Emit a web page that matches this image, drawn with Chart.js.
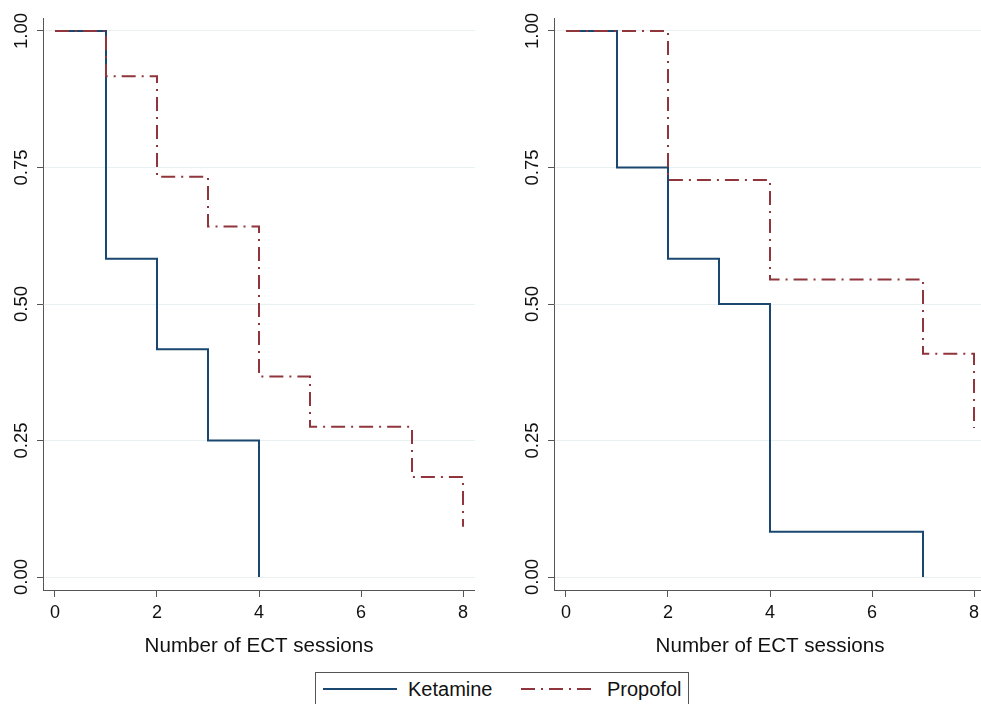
<!DOCTYPE html>
<html>
<head>
<meta charset="utf-8">
<script src="https://cdn.jsdelivr.net/npm/chart.js@4"></script>
<style>
	html, body { margin: 0; padding: 0; background: #fff; overflow: hidden; }
	body { width: 981px; height: 704px; position: relative; font-family: "Liberation Sans", Arial, sans-serif; }
	.panel { position: absolute; top: 0; width: 475px; height: 660px; }
	#panelLeft { left: 0; }
	#panelRight { left: 511px; }
	#legend { position: absolute; left: 315px; top: 672px; width: 374px; height: 54px; border: 1px solid #555; box-sizing: border-box; }
	#legend .item { position: absolute; top: 5px; height: 22px; display: flex; align-items: center; font-size: 20px; color: #111; }
</style>
</head>
<body>
<div class="panel" id="panelLeft"><canvas id="survLeft"></canvas></div>
<div class="panel" id="panelRight"><canvas id="survRight"></canvas></div>
<div id="legend">
	<div class="item" style="left:7px">
		<svg width="74" height="4" style="margin-right:11px"><line x1="0" y1="2" x2="74" y2="2" stroke="#1a476f" stroke-width="2"/></svg>Ketamine
	</div>
	<div class="item" style="left:205px">
		<svg width="72" height="4" style="margin-right:14px"><line x1="0" y1="2" x2="72" y2="2" stroke="#90353b" stroke-width="2" stroke-dasharray="14 6 2 6"/></svg>Propofol
	</div>
</div>
<script>
// Kaplan-Meier style step data
const leftKetX = [0, 1, 2, 3, 4];
const leftKetY = [1, 0.583, 0.417, 0.25, 0];
const leftPropX = [0, 1, 2, 3, 4, 5, 7, 8];
const leftPropY = [1, 0.917, 0.733, 0.642, 0.367, 0.275, 0.183, 0.092];

const rightKetX = [0, 1, 2, 3, 4, 7];
const rightKetY = [1, 0.75, 0.583, 0.5, 0.083, 0];
const rightPropX = [0, 2, 4, 7, 8];
const rightPropY = [1, 0.727, 0.545, 0.409, 0.273];

const xTicks = [0, 2, 4, 6, 8];
const yTicks = [0, 0.25, 0.5, 0.75, 1];
const xTitle = 'Number of ECT sessions';

const KET_COLOR = '#1a476f';
const PROP_COLOR = '#90353b';
const AXIS_COLOR = '#555';
const GRID_COLOR = '#e8f0f2';

function toPoints(xs, ys) {
	return xs.map((x, i) => ({ x: x, y: ys[i] }));
}

function makeChart(canvasId, ketX, ketY, propX, propY) {
	return new Chart(document.getElementById(canvasId), {
		type: 'line',
		data: {
			datasets: [
				{
					label: 'Ketamine',
					data: toPoints(ketX, ketY),
					borderColor: KET_COLOR,
					borderWidth: 2,
					stepped: true,
					pointRadius: 0,
					order: 1
				},
				{
					label: 'Propofol',
					data: toPoints(propX, propY),
					borderColor: PROP_COLOR,
					borderWidth: 2,
					borderDash: [14, 6, 2, 6],
					stepped: true,
					pointRadius: 0,
					order: 0
				}
			]
		},
		options: {
			responsive: true,
			maintainAspectRatio: false,
			animation: false,
			layout: { padding: { top: 18, left: 0, right: 0, bottom: 0 } },
			plugins: { legend: { display: false }, tooltip: { enabled: false } },
			scales: {
				x: {
					type: 'linear',
					min: -0.235,
					max: 8.235,
					afterBuildTicks: (scale) => { scale.ticks = xTicks.map(v => ({ value: v })); },
					afterFit: (scale) => { scale.height = 70; },
					grid: { drawOnChartArea: false, tickLength: 7, tickColor: AXIS_COLOR },
					border: { color: AXIS_COLOR, width: 1 },
					ticks: {
						color: '#111',
						padding: 5,
						maxRotation: 0,
						font: { family: '"Liberation Sans", Arial, sans-serif', size: 18 }
					},
					title: {
						display: true,
						text: xTitle,
						color: '#111',
						padding: { top: 0, bottom: 1 },
						font: { family: '"Liberation Sans", Arial, sans-serif', size: 20.6 }
					}
				},
				y: {
					type: 'linear',
					min: -0.0238,
					max: 1.0238,
					afterBuildTicks: (scale) => { scale.ticks = yTicks.map(v => ({ value: v })); },
					afterFit: (scale) => { scale.width = 43; },
					grid: { color: GRID_COLOR, lineWidth: 1, tickLength: 6, tickColor: AXIS_COLOR },
					border: { color: AXIS_COLOR, width: 1 },
					ticks: {
						color: '#111',
						padding: -3,
						minRotation: 90,
						maxRotation: 90,
						crossAlign: 'center',
						callback: (v) => v.toFixed(2),
						font: { family: '"Liberation Sans", Arial, sans-serif', size: 18.5 }
					}
				}
			}
		}
	});
}

makeChart('survLeft', leftKetX, leftKetY, leftPropX, leftPropY);
makeChart('survRight', rightKetX, rightKetY, rightPropX, rightPropY);
</script>
</body>
</html>
